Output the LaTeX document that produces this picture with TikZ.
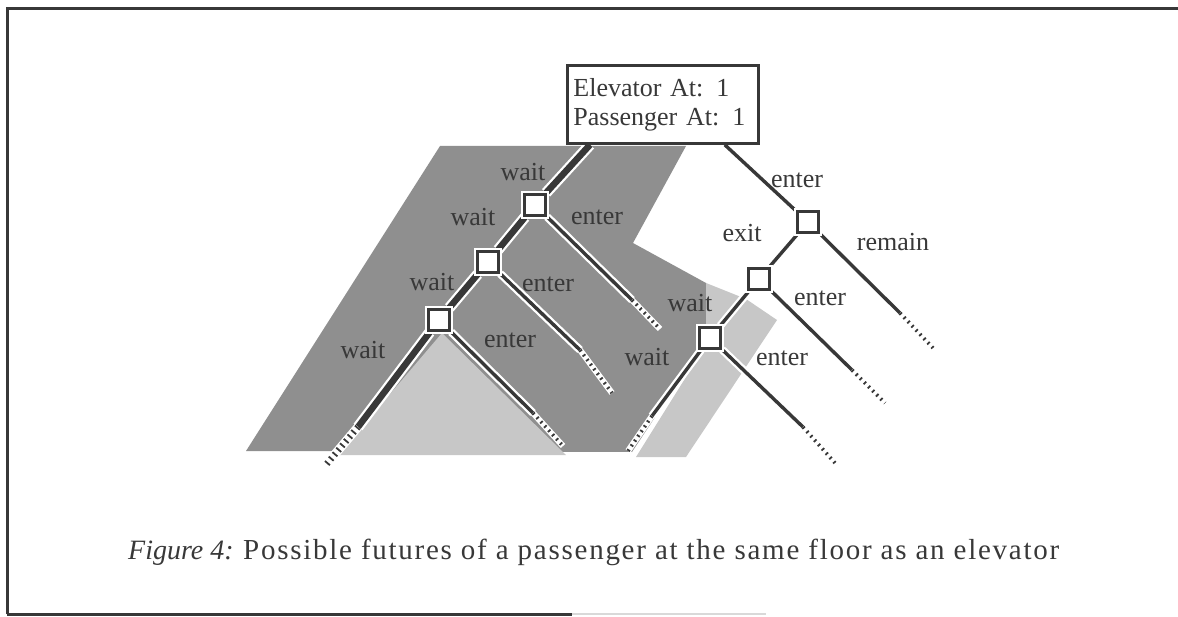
\documentclass[tikz,border=0pt]{standalone}
\usepackage{fontspec}
\setmainfont{Liberation Serif}
\newfontfamily\captfont[LetterSpace=6]{Liberation Serif}
\usetikzlibrary{backgrounds}

\definecolor{ink}{gray}{0.22}
\definecolor{darkshade}{gray}{0.56}
\definecolor{lightshade}{gray}{0.78}

\tikzset{
  boxed/.style={draw=ink, fill=white, line width=2.8pt, text=ink, align=left,
    text width=179pt, inner xsep=6pt, minimum height=78pt,
    font=\fontsize{26}{29}\selectfont},
  state/.style={draw=ink, fill=white, line width=2.8pt, minimum size=21.5pt,
    inner sep=0pt, preaction={draw=white, line width=7pt}},
  move/.style={draw=ink, line width=3.4pt, preaction={draw=white, line width=8pt}},
  waitmove/.style={draw=ink, line width=6.5pt, preaction={draw=white, line width=11pt}},
  future/.style={draw=ink, line width=3.6pt, dash pattern=on 1.8pt off 4pt,
    preaction={draw=white, line width=6pt}},
  lbl/.style={text=ink, inner sep=0pt, font=\fontsize{26}{28}\selectfont},
}

\begin{document}
\begin{tikzpicture}[x=1pt,y=-1pt]
\useasboundingbox (0,0) rectangle (1178,617);

% frame
\draw[ink, line width=3pt] (7,614) -- (7,9) -- (1178,9);
\draw[ink, line width=3pt] (7,614) -- (572,614);
\draw[black!15, line width=2pt] (572,614) -- (766,614);

% states
\node[boxed, anchor=north west] (start) at (566,64) {Elevator At: 1\\Passenger At: 1};
\node[state] (w1) at (535,205) {};
\node[state] (w2) at (488,262) {};
\node[state] (w3) at (439,320) {};
\node[state] (in1) at (808,222) {};
\node[state] (in2) at (759,279) {};
\node[state] (in3) at (710,338) {};

% where the moves fade out
\coordinate (e0) at (358,427);  \coordinate (f0) at (325,466);
\coordinate (e1) at (632,300);  \coordinate (f1) at (660,329);
\coordinate (e2) at (580,350);  \coordinate (f2) at (612,393);
\coordinate (e3) at (533,413);  \coordinate (f3) at (563,446);
\coordinate (e4) at (900,313);  \coordinate (f4) at (933,348);
\coordinate (e5) at (852,370);  \coordinate (f5) at (885,403);
\coordinate (e6) at (803,427);  \coordinate (f6) at (835,463);
\coordinate (e7) at (652,416);  \coordinate (f7) at (628,451);

\begin{pgfonlayer}{background}
\fill[darkshade] (246,451) -- (440,146) -- (686,146) -- (633,243) -- (706,283)
  -- (706,340) -- (632,452) -- cycle;
\fill[lightshade] (442,333) -- (338,455) -- (566,455) -- cycle;
\fill[lightshade] (706,283) -- (746,299) -- (777,320) -- (686,457) -- (636,457)
  -- (706,345) -- cycle;

\draw[waitmove] ([xshift=24pt]start.south west) -- (w1);
\draw[waitmove] (w1) -- (w2);
\draw[waitmove] (w2) -- (w3);
\draw[waitmove] (w3) -- (e0);
\draw[move] ([xshift=-35pt]start.south east) -- (in1);
\draw[move] (in1) -- (in2);
\draw[move] (in2) -- (in3);
\draw[move] (w1) -- (e1);
\draw[move] (w2) -- (e2);
\draw[move] (w3) -- (e3);
\draw[move] (in1) -- (e4);
\draw[move] (in2) -- (e5);
\draw[move] (in3) -- (e6);
\draw[move] (in3) -- (e7);
\draw[future, line width=6.5pt, preaction={draw=white, line width=9pt}] (e0) -- (f0);
\foreach \i in {1,...,7} { \draw[future] (e\i) -- (f\i); }
\end{pgfonlayer}

% labels
\node[lbl] (lw1) at (523,172) {wait};
\node[lbl] (lw2) at (473,217) {wait};
\node[lbl] (lw3) at (432,282) {wait};
\node[lbl] (lw4) at (363,350) {wait};
\node[lbl] (le1) at (597,217) {enter};
\node[lbl] (le2) at (548,284) {enter};
\node[lbl] (le3) at (510,340) {enter};
\node[lbl] (lw5) at (690,303) {wait};
\node[lbl] (lw6) at (647,357) {wait};
\node[lbl] (lin) at (797,180) {enter};
\node[lbl] (lexit) at (742,233) {exit};
\node[lbl] (lrem) at (893,242) {remain};
\node[lbl] (lin2) at (820,298) {enter};
\node[lbl] (lin3) at (782,358) {enter};

% caption
\node[lbl, anchor=base west] (fig) at (128,559) {\fontsize{28}{30}\selectfont\itshape Figure 4:};
\node[lbl, anchor=base west] (capt) at (243,559) {\captfont\fontsize{29}{30}\selectfont Possible futures of a passenger at the same floor as an elevator};
\end{tikzpicture}
\end{document}
